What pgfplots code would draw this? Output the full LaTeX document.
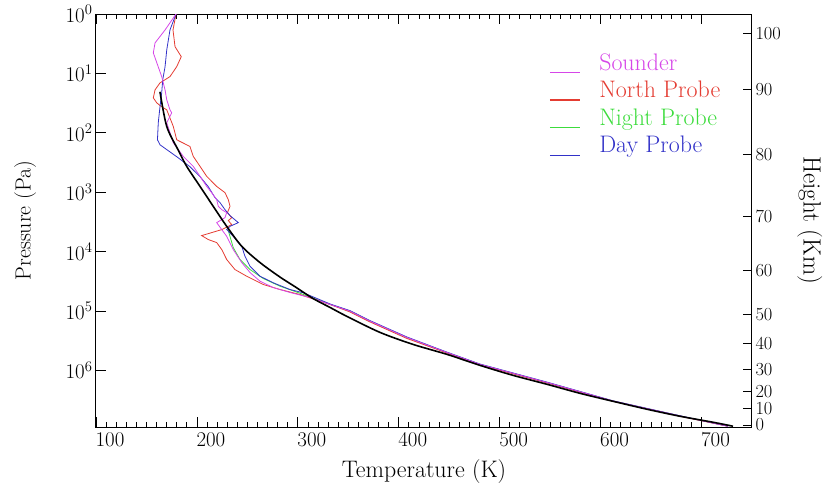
\documentclass[border=0pt]{standalone}
\usepackage{fontspec}
\usepackage{pgfplots}
\pgfplotsset{compat=1.18}
\definecolor{sounder}{RGB}{214,70,232}
\definecolor{north}{RGB}{228,60,50}
\definecolor{night}{RGB}{60,220,60}
\definecolor{day}{RGB}{50,50,200}
\begin{document}
\begin{tikzpicture}
\begin{axis}[
  scale only axis, width=656bp, height=413bp,
  xmin=100, xmax=750, ymin=0, ymax=6.954, y dir=reverse,
  /pgf/number format/assume math mode=true,
  xtick={100,200,...,700}, minor x tick num=9,
  ytick={0,1,2,3,4,5,6},
  yticklabels={10\textsuperscript{0},10\textsuperscript{1},10\textsuperscript{2},10\textsuperscript{3},10\textsuperscript{4},10\textsuperscript{5},10\textsuperscript{6}},
  ytick pos=left, xtick pos=both,
  tick align=inside,
  major tick length=10bp, minor tick length=5bp,
  axis line style={line width=1bp},
  every tick/.style={black, line width=0.8bp},
  xticklabel style={font=\fontsize{21}{25}\selectfont, xshift=14bp, yshift=-2bp},
  yticklabel style={font=\fontsize{21}{25}\selectfont},
  xlabel={Temperature (K)}, ylabel={Pressure (Pa)},
  xlabel style={font=\fontsize{24}{28}\selectfont, at={(axis description cs:0.5,-0.109)}, anchor=center},
  ylabel style={font=\fontsize{22}{26}\selectfont, at={(axis description cs:-0.108,0.5)}, anchor=center},
  legend style={draw=none, fill=none, at={(axis description cs:0.686,0.915)}, anchor=north west,
    font=\fontsize{24}{28}\selectfont, row sep=5.5bp, column sep=17bp},
  legend cell align=left,
  legend image code/.code={\draw[#1] (0bp,-10bp) -- (30bp,-10bp);},
]
\addlegendimage{draw=sounder, line width=1.1bp}
\addlegendentry{\textcolor{sounder}{Sounder}}
\addlegendimage{draw=north, line width=1.1bp}
\addlegendentry{\textcolor{north}{North Probe}}
\addlegendimage{draw=night, line width=1.1bp}
\addlegendentry{\textcolor{night}{Night Probe}}
\addlegendimage{draw=day, line width=1.1bp}
\addlegendentry{\textcolor{day}{Day Probe}}

% Night Probe
\addplot[night, line width=0.8bp, forget plot] table[x=T, y=L] {
T L
230.8 3.630
236.0 3.933
242.7 4.134
252.6 4.303
265.8 4.454
282.3 4.583
297.2 4.672
315.0 4.782
331.9 4.891
351.7 5.000
371.5 5.168
407.9 5.445
447.5 5.697
480.5 5.899
546.6 6.202
612.3 6.516
678.7 6.768
726.2 6.941
};
% North Probe
\addplot[north, line width=0.8bp, forget plot] table[x=T, y=L] {
T L
179.3 0.000
176.3 0.269
178.3 0.550
184.5 0.718
180.0 0.886
173.3 1.054
163.4 1.160
158.5 1.277
156.8 1.412
160.2 1.496
165.1 1.563
170.1 1.613
176.6 1.894
180.0 2.118
193.1 2.230
196.4 2.398
203.1 2.566
209.7 2.734
219.6 2.903
227.8 3.008
231.1 3.126
232.8 3.239
230.2 3.345
234.5 3.429
231.1 3.479
234.5 3.546
224.6 3.630
214.6 3.681
204.7 3.731
211.3 3.798
219.6 3.849
224.6 3.966
229.5 4.134
237.7 4.303
249.3 4.415
265.8 4.555
282.3 4.639
302.1 4.723
331.9 4.891
351.7 5.017
371.5 5.185
407.9 5.462
447.5 5.706
480.5 5.908
546.6 6.210
612.3 6.521
678.7 6.773
726.2 6.941
};
% Day Probe
\addplot[day, line width=0.8bp, forget plot] table[x=T, y=L] {
T L
179.3 0.000
173.3 0.269
170.1 0.605
168.4 0.891
166.1 1.109
165.1 1.328
163.4 1.563
161.7 1.832
160.9 2.118
163.4 2.202
180.0 2.403
193.1 2.571
203.1 2.739
211.3 2.908
217.9 3.092
222.9 3.176
227.8 3.294
232.8 3.395
241.0 3.513
232.8 3.575
229.5 3.630
236.0 3.743
244.4 3.911
247.6 4.079
252.6 4.247
262.5 4.415
275.7 4.526
292.2 4.639
305.4 4.694
331.9 4.882
351.7 4.995
371.5 5.163
407.9 5.437
447.5 5.692
480.5 5.894
546.6 6.197
612.3 6.513
678.7 6.765
726.2 6.941
};
% Sounder
\addplot[sounder, line width=0.8bp, forget plot] table[x=T, y=L] {
T L
179.3 0.000
168.4 0.269
158.5 0.487
156.8 0.655
161.7 0.891
165.1 1.054
168.4 1.277
170.1 1.445
173.3 1.613
175.0 1.664
170.1 1.832
176.6 2.168
186.5 2.398
196.4 2.566
203.1 2.734
209.7 2.903
214.6 3.008
219.6 3.126
221.2 3.239
224.6 3.294
229.5 3.345
227.8 3.429
224.6 3.462
219.6 3.513
224.6 3.630
229.5 3.743
236.0 3.966
244.4 4.185
252.6 4.353
262.5 4.499
275.4 4.605
292.2 4.689
312.1 4.773
331.9 4.891
351.7 5.003
371.5 5.171
407.9 5.445
447.5 5.697
480.5 5.899
546.6 6.202
612.3 6.516
678.7 6.768
726.2 6.941
};
% Model (black)
\addplot[black, line width=1.6bp, smooth, forget plot] table[x=T, y=L] {
T L
163.4 1.311
170.1 1.894
181.3 2.286
189.9 2.566
203.1 2.903
216.2 3.239
229.5 3.575
244.4 3.911
262.5 4.185
282.3 4.429
298.9 4.610
315.0 4.790
331.9 4.941
348.7 5.092
381.4 5.361
414.1 5.563
447.8 5.731
480.5 5.916
513.2 6.084
546.9 6.235
579.6 6.387
612.3 6.521
646.0 6.655
678.7 6.773
711.4 6.874
731.2 6.941
};
\end{axis}
\begin{axis}[
  scale only axis, width=656bp, height=413bp,
  xmin=100, xmax=750, ymin=0, ymax=6.954, y dir=reverse,
  /pgf/number format/assume math mode=true,
  axis x line=none, axis y line*=right,
  ytick={0.324,1.277,2.37,3.40,4.32,5.06,5.55,5.98,6.35,6.64,6.92},
  yticklabels={100,90,80,70,60,50,40,30,20,10,0},
  tick align=inside, major tick length=9bp,
  axis line style={line width=1bp},
  every tick/.style={black, line width=0.8bp},
  yticklabel style={font=\fontsize{18.5}{22}\selectfont},
  ylabel={Height (Km)},
  ylabel style={font=\fontsize{25}{29}\selectfont, at={(axis description cs:1.088,0.5)}, rotate=180, anchor=center},
]
\addplot[draw=none, forget plot] coordinates {(100,0)};
\end{axis}
\pgfresetboundingbox
\path (-96bp,-66bp) rectangle (728bp,427bp);
\end{tikzpicture}
\end{document}
